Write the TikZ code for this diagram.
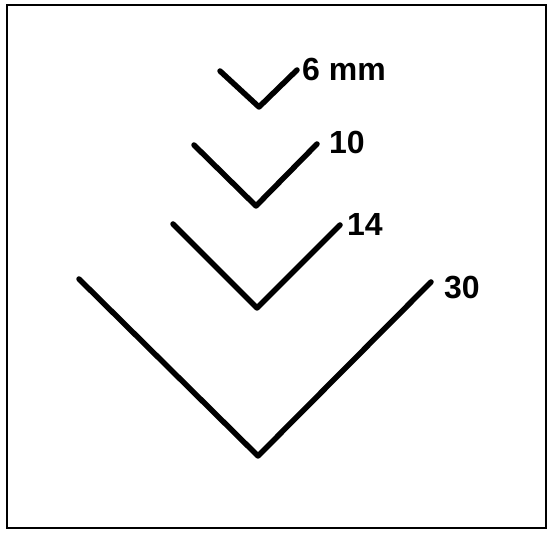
\documentclass[tikz,border=0pt]{standalone}
\usepackage{fontspec}
\setmainfont{Liberation Sans}
\usepackage{tikz}
\usetikzlibrary{positioning}

\begin{document}
\begin{tikzpicture}[
    x=1pt, y=-1pt,
    frame/.style={draw, line width=2.5pt},
    vee/.style={draw, line width=5.5pt, line cap=round, line join=round},
    size/.style={inner sep=0pt, font=\fontsize{32}{32}\selectfont\bfseries}
]
    \useasboundingbox (0,0) rectangle (555,534);
    % Frame
    \draw[frame] (7,5) rectangle (546,528);

    % Corner points of the grooves
    \coordinate (a1) at (220,71);  \coordinate (v1) at (259,107); \coordinate (b1) at (297,70);
    \coordinate (a2) at (194,145); \coordinate (v2) at (256,206); \coordinate (b2) at (317,144);
    \coordinate (a3) at (173,224); \coordinate (v3) at (257,308); \coordinate (b3) at (340,225);
    \coordinate (a4) at (79,279);  \coordinate (v4) at (258,456); \coordinate (b4) at (431,282);

    % Grooves
    \draw[vee] (a1) -- (v1) -- (b1);
    \draw[vee] (a2) -- (v2) -- (b2);
    \draw[vee] (a3) -- (v3) -- (b3);
    \draw[vee] (a4) -- (v4) -- (b4);

    % Labels
    \node[size] (l6) at (344,69) {6 mm};
    \node[size] (l10) at (347,142) {10};
    \node[size] (l14) at (365,224) {14};
    \node[size] (l30) at (462,288) {30};
\end{tikzpicture}
\end{document}
